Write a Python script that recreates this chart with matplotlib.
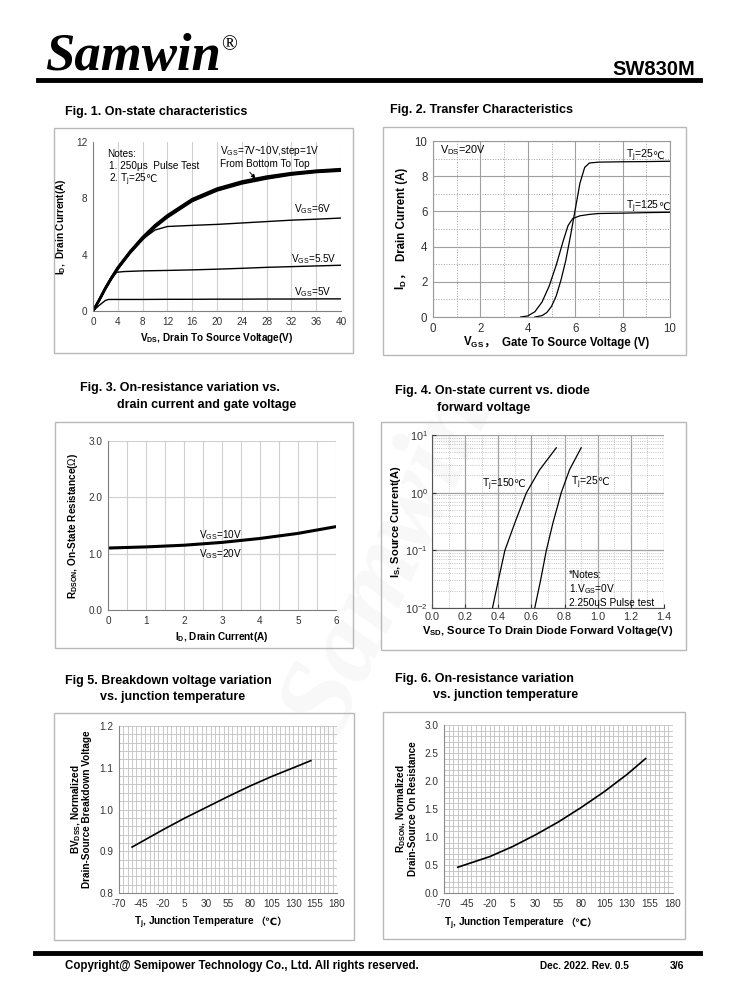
import matplotlib.pyplot as plt
from matplotlib.patches import Rectangle
from matplotlib.ticker import MultipleLocator, LogLocator, NullFormatter

plt.rcParams['font.family'] = ['Liberation Sans', 'DejaVu Sans', 'Noto Sans CJK SC']
plt.rcParams['mathtext.fontset'] = 'custom'
plt.rcParams['mathtext.rm'] = 'Liberation Sans'
plt.rcParams['mathtext.bf'] = 'Liberation Sans:bold'
plt.rcParams['mathtext.it'] = 'Liberation Sans:italic'
plt.rcParams['axes.unicode_minus'] = False

# ---- data ----
# Fig 1: output characteristics
vds = [0, 1, 2, 3, 4, 6, 8, 10, 12, 16, 20, 24, 28, 32, 36, 40]
id_vgs10 = [0, 0.8, 1.65, 2.4, 3.1, 4.25, 5.25, 6.1, 6.8, 7.95, 8.7, 9.2, 9.55, 9.8, 9.97, 10.08]
id_vgs9 = [0, 0.78, 1.62, 2.37, 3.05, 4.2, 5.2, 6.05, 6.75, 7.9, 8.65, 9.15, 9.5, 9.75, 9.93, 10.04]
id_vgs8 = [0, 0.77, 1.6, 2.35, 3.02, 4.17, 5.15, 6.0, 6.7, 7.85, 8.6, 9.1, 9.45, 9.72, 9.9, 10.0]
id_vgs7 = [0, 0.76, 1.58, 2.32, 3.0, 4.13, 5.1, 5.95, 6.65, 7.8, 8.55, 9.05, 9.4, 9.68, 9.86, 9.96]
vds_6 = [0, 1, 2, 3, 4, 6, 8, 10, 12, 16, 20, 24, 28, 32, 36, 40]
id_vgs6 = [0, 0.76, 1.58, 2.32, 3.0, 4.13, 5.1, 5.75, 6.0, 6.08, 6.15, 6.25, 6.35, 6.45, 6.52, 6.6]
vds_55 = [0, 1, 2, 3, 3.8, 5, 8, 12, 16, 20, 24, 28, 32, 36, 40]
id_vgs55 = [0, 0.76, 1.58, 2.3, 2.75, 2.8, 2.85, 2.88, 2.92, 2.97, 3.03, 3.1, 3.15, 3.2, 3.25]
vds_5 = [0, 1, 2, 2.5, 4, 8, 12, 16, 20, 24, 28, 32, 36, 40]
id_vgs5 = [0, 0.4, 0.75, 0.82, 0.82, 0.82, 0.83, 0.83, 0.84, 0.84, 0.85, 0.85, 0.86, 0.86]

# Fig 2: transfer characteristics
vgs_25 = [4.3, 4.6, 4.8, 5.0, 5.2, 5.4, 5.6, 5.8, 6.0, 6.2, 6.4, 6.6, 7.0, 8.0, 9.0, 10.0]
id_25 = [0, 0.08, 0.25, 0.6, 1.2, 2.1, 3.2, 4.6, 6.1, 7.6, 8.5, 8.75, 8.8, 8.82, 8.83, 8.85]
vgs_125 = [3.7, 4.0, 4.3, 4.6, 4.9, 5.2, 5.5, 5.7, 5.9, 6.2, 6.6, 7.0, 8.0, 9.0, 10.0]
id_125 = [0, 0.06, 0.3, 0.85, 1.75, 2.95, 4.35, 5.2, 5.6, 5.75, 5.83, 5.88, 5.9, 5.93, 5.95]

# Fig 3: on-resistance vs drain current
id_r = [0, 1, 2, 3, 4, 5, 6]
rdson = [1.10, 1.12, 1.15, 1.20, 1.27, 1.36, 1.48]

# Fig 4: body diode forward voltage
vsd_150 = [0.365, 0.40, 0.44, 0.50, 0.57, 0.65, 0.75]
is_150 = [0.01, 0.03, 0.1, 0.3, 1.0, 2.5, 6.0]
vsd_25 = [0.62, 0.655, 0.69, 0.73, 0.78, 0.83, 0.90]
is_25 = [0.01, 0.03, 0.1, 0.3, 1.0, 2.5, 6.0]

# Fig 5 / Fig 6: temperature dependence
tj = [-55, -20, 5, 30, 55, 80, 105, 130, 150]
bvdss = [0.91, 0.951, 0.979, 1.005, 1.031, 1.056, 1.079, 1.100, 1.117]
rdson_n = [0.46, 0.65, 0.83, 1.04, 1.27, 1.53, 1.81, 2.12, 2.40]

tj_ticks = [-70, -45, -20, 5, 30, 55, 80, 105, 130, 155, 180]

W, H = 738, 1000
fig = plt.figure(figsize=(W / 100, H / 100), dpi=100)


def ax_px(x0, x1, yt, yb):
    return fig.add_axes([x0 / W, 1 - yb / H, (x1 - x0) / W, (yb - yt) / H])


def box(x0, x1, yt, yb):
    fig.add_artist(Rectangle((x0 / W, 1 - yb / H), (x1 - x0) / W, (yb - yt) / H,
                             transform=fig.transFigure, fill=False,
                             edgecolor='#b8b8b8', linewidth=1.0))


def ftext(x, y, s, **kw):
    return fig.text(x / W, 1 - y / H, s, **kw)


def after(ax, t, y, s, coords='data', **kw):
    # put s right after text t on the same baseline (mathtext + CJK glyphs)
    return ax.annotate(s, xy=(1, y), xycoords=(t, coords), xytext=(-1.2, 0),
                       textcoords='offset points', va='baseline', ha='left', **kw)


# header / footer
ftext(45, 70, 'Samwin', family='Liberation Serif', weight='bold', style='italic',
      fontsize=38, va='baseline')
ftext(221, 50, '®', family='Liberation Serif', fontsize=15, va='baseline')
ftext(695, 75, 'SW830M', weight='bold', fontsize=14.5, ha='right', va='baseline')
fig.add_artist(plt.Line2D([38 / W, 700 / W], [1 - 80 / H] * 2, color='black', lw=3.5))
fig.add_artist(plt.Line2D([35 / W, 700 / W], [1 - 953 / H] * 2, color='black', lw=3.5))
ftext(65, 969, 'Copyright@ Semipower Technology Co., Ltd. All rights reserved.',
      weight='bold', fontsize=8.3, va='baseline')
ftext(540, 969, 'Dec. 2022. Rev. 0.5', weight='bold', fontsize=7.2, va='baseline')
ftext(670, 969, '3/6', weight='bold', fontsize=7.6, va='baseline')

# faint watermark
ftext(390, 560, 'Samwin', fontsize=80, color='#f8f8f8', rotation=65, weight='bold',
      ha='center', va='center', zorder=-5, family='Liberation Serif', style='italic')

# titles
tkw = dict(weight='bold', fontsize=9, va='baseline')
ftext(65, 115, 'Fig. 1. On-state characteristics', **tkw)
ftext(390, 113, 'Fig. 2. Transfer Characteristics', **tkw)
ftext(80, 391, 'Fig. 3. On-resistance variation vs.', **tkw)
ftext(117, 408, 'drain current and gate voltage', **tkw)
ftext(395, 394, 'Fig. 4. On-state current vs. diode', **tkw)
ftext(437, 411, 'forward voltage', **tkw)
ftext(65, 684, 'Fig 5. Breakdown voltage variation', **tkw)
ftext(100, 700, 'vs. junction temperature', **tkw)
ftext(395, 682, 'Fig. 6. On-resistance variation', **tkw)
ftext(433, 698, 'vs. junction temperature', **tkw)

# panel frames
box(54, 353, 128, 353)
box(383, 686, 127, 355)
box(55, 353, 422, 648)
box(381, 686, 422, 650)
box(54, 354, 713, 940)
box(383, 685, 712, 939)

lab = dict(fontsize=7.2, weight='bold')
small = 7.2


def basic(ax, spine='#7f7f7f'):
    ax.set_facecolor('none')
    for s in ('top', 'right'):
        ax.spines[s].set_visible(False)
    for s in ('left', 'bottom'):
        ax.spines[s].set_color(spine)
    ax.tick_params(labelsize=small, length=0, pad=4, colors='#333333')


# ---- Fig 1 ----
ax1 = ax_px(93, 341, 142, 311)
basic(ax1)
for y in (id_vgs7, id_vgs8, id_vgs9, id_vgs10):
    ax1.plot(vds, y, color='black', lw=1.7)
ax1.plot(vds_6, id_vgs6, color='black', lw=1.0)
ax1.plot(vds_55, id_vgs55, color='black', lw=1.0)
ax1.plot(vds_5, id_vgs5, color='black', lw=1.0)
ax1.set_xlim(0, 40)
ax1.set_ylim(0, 12)
ax1.set_xticks(range(0, 41, 4))
ax1.set_yticks([0, 4, 8, 12])
ax1.grid(axis='x', color='#d0d0d0', lw=0.8)
ax1.set_axisbelow(True)
ax1.set_xlabel(r'V$_\mathbf{DS}$, Drain To Source Voltage(V)', labelpad=3, **lab)
ax1.set_ylabel(r'I$_\mathbf{D}$,  Drain Current(A)', labelpad=6, **lab)
ax1.text(2.2, 10.95, 'Notes:', fontsize=small, va='baseline')
ax1.text(2.6, 10.05, '1. 250μs  Pulse Test', fontsize=small, va='baseline')
t = ax1.text(2.6, 9.15, r'2. T$_\mathrm{j}$=25 ', fontsize=small, va='baseline')
after(ax1, t, 9.15, '℃', fontsize=small)
ax1.text(20.5, 11.15, r'V$_\mathrm{GS}$=7V~10V,step=1V', fontsize=small, va='baseline')
ax1.text(20.5, 10.2, 'From Bottom To Top', fontsize=small, va='baseline')
ax1.annotate('', xy=(26.5, 9.25), xytext=(25.0, 10.0),
             arrowprops=dict(arrowstyle='-|>', color='black', lw=0.7, mutation_scale=6))
ax1.text(32.5, 7.0, r'V$_\mathrm{GS}$=6V', fontsize=small)
ax1.text(32.0, 3.5, r'V$_\mathrm{GS}$=5.5V', fontsize=small)
ax1.text(32.5, 1.1, r'V$_\mathrm{GS}$=5V', fontsize=small)

# ---- Fig 2 ----
ax2 = ax_px(433, 670, 141, 317)
ax2.set_facecolor('none')
for s in ax2.spines.values():
    s.set_color('#999999')
ax2.plot(vgs_25, id_25, color='black', lw=0.9)
ax2.plot(vgs_125, id_125, color='black', lw=0.9)
ax2.set_xlim(0, 10)
ax2.set_ylim(0, 10)
ax2.xaxis.set_major_locator(MultipleLocator(2))
ax2.yaxis.set_major_locator(MultipleLocator(2))
ax2.xaxis.set_minor_locator(MultipleLocator(1))
ax2.yaxis.set_minor_locator(MultipleLocator(1))
ax2.grid(which='major', color='#a0a0a0', lw=0.8)
ax2.grid(which='minor', color='#a0a0a0', lw=0.7, ls=':')
ax2.set_axisbelow(True)
ax2.tick_params(which='both', length=0, labelsize=8.3, pad=4, colors='#333333')
# axis labels (drawn in pieces because of the full-width comma)
xl = ftext(463, 346, r'V$_\mathbf{GS}$', fontsize=8.3, weight='bold', va='baseline')
fig_y = 1 - 346 / H
fig.add_artist(plt.Annotation('，  Gate To Source Voltage (V)', xy=(1, fig_y),
                              xycoords=(xl, 'figure fraction'), va='baseline', ha='left',
                              fontsize=8.3, weight='bold'))
yl = ftext(405, 290, r'I$_\mathbf{D}$', fontsize=8.3, weight='bold', rotation=90,
           rotation_mode='anchor', ha='left', va='baseline')
fig.add_artist(plt.Annotation('，  Drain Current (A)', xy=(405 / W, 1),
                              xycoords=('figure fraction', yl), rotation=90,
                              rotation_mode='anchor', ha='left', va='baseline',
                              fontsize=8.3, weight='bold'))
ax2.text(0.3, 9.3, r'V$_\mathrm{DS}$=20V', fontsize=7.8)
t = ax2.text(8.15, 9.0, r'T$_\mathrm{j}$=25', fontsize=7.5, va='baseline')
after(ax2, t, 9.0, '℃', fontsize=7.5)
t = ax2.text(8.15, 6.1, r'T$_\mathrm{j}$=125', fontsize=7.5, va='baseline')
after(ax2, t, 6.1, '℃', fontsize=7.5)

# ---- Fig 3 ----
ax3 = ax_px(108, 336, 441, 610)
basic(ax3)
ax3.plot(id_r, rdson, color='black', lw=2.2)
ax3.set_xlim(0, 6)
ax3.set_ylim(0, 3)
ax3.set_xticks(range(0, 7))
ax3.set_yticks([0, 1, 2, 3])
ax3.set_yticklabels(['0.0', '1.0', '2.0', '3.0'])
ax3.xaxis.set_minor_locator(MultipleLocator(0.5))
ax3.tick_params(which='minor', length=0)
ax3.grid(axis='x', which='both', color='#d0d0d0', lw=0.8)
ax3.grid(axis='y', color='#d0d0d0', lw=0.8)
ax3.set_axisbelow(True)
ax3.set_xlabel(r'I$_\mathbf{D}$, Drain Current(A)', labelpad=3, **lab)
ax3.set_ylabel(r'R$_\mathbf{DSON}$, On-State Resistance($\Omega$)', labelpad=6, **lab)
ax3.text(2.4, 1.27, r'V$_\mathrm{GS}$=10V', fontsize=small)
ax3.text(2.4, 0.93, r'V$_\mathrm{GS}$=20V', fontsize=small)

# ---- Fig 4 ----
ax4 = ax_px(432, 664, 435, 608)
ax4.set_facecolor('none')
for s in ax4.spines.values():
    s.set_visible(False)
for s in ('left', 'bottom'):
    ax4.spines[s].set_visible(True)
    ax4.spines[s].set_color('#555555')
ax4.set_yscale('log')
ax4.plot(vsd_150, is_150, color='black', lw=0.9)
ax4.plot(vsd_25, is_25, color='black', lw=0.9)
ax4.set_xlim(0, 1.4)
ax4.set_ylim(0.01, 10)
ax4.xaxis.set_major_locator(MultipleLocator(0.2))
ax4.xaxis.set_minor_locator(MultipleLocator(0.1))
ax4.yaxis.set_minor_locator(LogLocator(subs=range(2, 10)))
ax4.yaxis.set_minor_formatter(NullFormatter())
ax4.xaxis.set_major_formatter(plt.FuncFormatter(lambda v, p: f'{v:.1f}'))
ax4.grid(which='major', color='#a0a0a0', lw=0.9)
ax4.grid(which='minor', color='#b0b0b0', lw=0.6, ls=':')
ax4.set_axisbelow(True)
ax4.tick_params(which='major', length=3, direction='in', labelsize=7.8, pad=3, colors='#333333')
ax4.tick_params(which='minor', length=0)
ax4.set_xlabel(r'V$_\mathbf{SD}$, Source To Drain Diode Forward Voltage(V)', labelpad=1,
               fontsize=8, weight='bold')
ax4.set_ylabel(r'I$_\mathbf{S}$, Source Current(A)', labelpad=2, fontsize=8, weight='bold')
t = ax4.text(0.30, 1.25, r'T$_\mathrm{j}$=150', fontsize=7.5, va='baseline')
after(ax4, t, 1.25, '℃', fontsize=7.5)
t = ax4.text(0.84, 1.35, r'T$_\mathrm{j}$=25', fontsize=7.5, va='baseline')
after(ax4, t, 1.35, '℃', fontsize=7.5)
ax4.text(0.825, 0.033, '*Notes:', fontsize=7.3)
ax4.text(0.825, 0.019, r'1.V$_\mathrm{GS}$=0V', fontsize=7.3)
ax4.text(0.825, 0.011, '2.250uS Pulse test', fontsize=7.3)


# ---- Fig 5 / Fig 6 ----
def temp_axes(ax, x_lab, y_lab):
    basic(ax, spine='#888888')
    ax.set_xlim(-70, 180)
    ax.set_xticks(tj_ticks)
    ax.xaxis.set_minor_locator(MultipleLocator(5))
    ax.grid(which='both', color='#c0c0c0', lw=0.6)
    ax.tick_params(which='minor', length=0)
    ax.set_axisbelow(True)
    tl = ftext(x_lab, y_lab, r'T$_\mathbf{j}$, Junction Temperature ', va='baseline', **lab)
    fig.add_artist(plt.Annotation('（℃）', xy=(1, 1 - y_lab / H),
                                  xycoords=(tl, 'figure fraction'), va='baseline',
                                  ha='left', **lab))


ax5 = ax_px(119, 337, 726, 893)
temp_axes(ax5, 134, 925)
ax5.plot(tj, bvdss, color='black', lw=1.2)
ax5.set_ylim(0.8, 1.2)
ax5.set_yticks([0.8, 0.9, 1.0, 1.1, 1.2])
ax5.set_yticklabels(['0.8', '0.9', '1.0', '1.1', '1.2'])
ax5.yaxis.set_minor_locator(MultipleLocator(0.02))
ax5.set_ylabel('BV$_\\mathbf{DSS}$, Normalized\nDrain-Source Breakdown Voltage', labelpad=5,
               linespacing=0.95, **lab)

ax6 = ax_px(444, 673, 725, 893)
temp_axes(ax6, 444, 926)
ax6.plot(tj, rdson_n, color='black', lw=1.2)
ax6.set_ylim(0, 3)
ax6.set_yticks([0, 0.5, 1, 1.5, 2, 2.5, 3])
ax6.set_yticklabels(['0.0', '0.5', '1.0', '1.5', '2.0', '2.5', '3.0'])
ax6.yaxis.set_minor_locator(MultipleLocator(0.1))
ax6.set_ylabel('R$_\\mathbf{DSON}$, Normalized\nDrain-Source On Resistance', labelpad=5,
               linespacing=0.95, **lab)

fig.savefig('out.png', dpi=100)
